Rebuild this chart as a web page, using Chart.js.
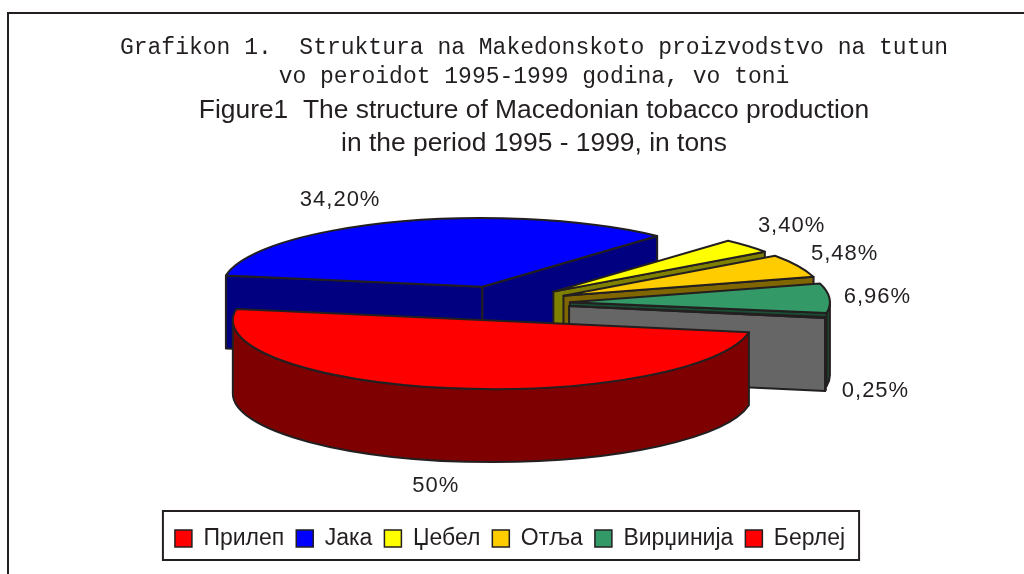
<!DOCTYPE html>
<html>
<head>
<meta charset="utf-8">
<script src="https://cdn.jsdelivr.net/npm/chart.js@4"></script>
<style>
  html, body { margin: 0; padding: 0; background: #fff; }
  canvas { display: block; }
</style>
</head>
<body>
<canvas id="tobaccoChart" width="1024" height="574"></canvas>
<script>
const regions = ['Прилеп', 'Јака', 'Џебел', 'Отља', 'Вирџинија', 'Берлеј'];
const shares = [50, 34.2, 3.4, 5.48, 6.96, 0.25];
const shareLabels = ['50%', '34,20%', '3,40%', '5,48%', '6,96%', '0,25%'];
const topColors = ['#FF0000', '#0000FF', '#FFFF00', '#FFCC00', '#339966', '#FF0000'];
const wallColors = ['#7F0000', '#000080', '#808000', '#806600', '#1A4D33', '#666666'];
const rimColors = ['#7F0000', '#000080', '#808000', '#806600', '#1A4D33', '#231F20'];

const titleLines = ['Grafikon 1.  Struktura na Makedonskoto proizvodstvo na tutun', 'vo peroidot 1995-1999 godina, vo toni'];
const subtitleLines = ['Figure1  The structure of Macedonian tobacco production', 'in the period 1995 - 1999, in tons'];

const outline = '#231F20';
const tilt = 0.264;     // vertical squash of the pie
const depth = 73;       // height of the pie wall
const explode = 66;     // how far the slices are pulled out
const paintOrder = [1, 2, 3, 4, 5, 0];
const pieShift = { x: 0, y: -49 };
const labelShift = [[-13, 98], [-57, -22], [44, -20], [47, -12], [48, -1], [50, 73]];

// pie drawn as a flat ellipse with walls, geometry comes from the arc elements
function slicePoint(c, r, a) {
  return { x: c.x + Math.cos(a) * r, y: c.y + Math.sin(a) * r * tilt };
}

function sliceCenter(arc) {
  const mid = (arc.startAngle + arc.endAngle) / 2;
  return {
    x: arc.x + pieShift.x + Math.cos(mid) * explode,
    y: arc.y + pieShift.y + Math.sin(mid) * explode * tilt
  };
}

function paint(ctx, fill) {
  ctx.fillStyle = fill;
  ctx.fill();
  ctx.stroke();
}

function radialWall(ctx, c, r, a, fill) {
  const p = slicePoint(c, r, a);
  ctx.beginPath();
  ctx.moveTo(c.x, c.y);
  ctx.lineTo(p.x, p.y);
  ctx.lineTo(p.x, p.y + depth);
  ctx.lineTo(c.x, c.y + depth);
  ctx.closePath();
  paint(ctx, fill);
}

function curvedWall(ctx, c, r, from, to, fill) {
  const ry = r * tilt;
  ctx.beginPath();
  ctx.ellipse(c.x, c.y, r, ry, 0, from, to);
  ctx.ellipse(c.x, c.y + depth, r, ry, 0, to, from, true);
  ctx.closePath();
  paint(ctx, fill);
}

function drawSlice(ctx, arc, i) {
  const c = sliceCenter(arc);
  const r = arc.outerRadius;
  const s = arc.startAngle;
  const e = arc.endAngle;
  if (Math.cos(s) < 0) radialWall(ctx, c, r, s, wallColors[i]);
  if (Math.cos(e) > 0) radialWall(ctx, c, r, e, wallColors[i]);
  // front part of the rim only, where sin(angle) > 0
  for (let k = -1; k <= 2; k++) {
    const from = Math.max(s, k * 2 * Math.PI);
    const to = Math.min(e, k * 2 * Math.PI + Math.PI);
    if (to > from) curvedWall(ctx, c, r, from, to, rimColors[i]);
  }
  ctx.beginPath();
  ctx.moveTo(c.x, c.y);
  ctx.ellipse(c.x, c.y, r, r * tilt, 0, s, e);
  ctx.closePath();
  paint(ctx, topColors[i]);
}

const piePlugin = {
  id: 'pie3d',
  beforeDraw(chart) {
    const ctx = chart.ctx;
    ctx.save();
    ctx.strokeStyle = outline;
    ctx.lineWidth = 2;
    ctx.beginPath();
    ctx.moveTo(8, 574);
    ctx.lineTo(8, 13);
    ctx.lineTo(1024, 13);
    ctx.stroke();
    ctx.restore();
  },
  afterLayout(chart) {
    chart.boxes.forEach(b => {
      if (b.options && b.options.text) { b.left += 30; b.right += 30; }
    });
    chart.legend.left += 6;
    chart.legend.right += 6;
  },
  beforeDatasetsDraw(chart) {
    const ctx = chart.ctx;
    const arcs = chart.getDatasetMeta(0).data;
    ctx.save();
    ctx.strokeStyle = outline;
    ctx.lineWidth = 2;
    ctx.lineJoin = 'round';
    paintOrder.forEach(i => drawSlice(ctx, arcs[i], i));

    ctx.fillStyle = outline;
    ctx.font = '22px "Liberation Sans"';
    ctx.letterSpacing = '1px';
    ctx.textAlign = 'center';
    ctx.textBaseline = 'middle';
    arcs.forEach((arc, i) => {
      const mid = (arc.startAngle + arc.endAngle) / 2;
      const p = slicePoint(sliceCenter(arc), arc.outerRadius, mid);
      ctx.fillText(shareLabels[i], p.x + labelShift[i][0], p.y + labelShift[i][1]);
    });
    ctx.restore();
    return false;
  },
  afterDraw(chart) {
    // frame around the legend
    const legend = chart.legend;
    const ctx = chart.ctx;
    const mid = (legend.left + legend.right) / 2 + 1;
    const half = legend.lineWidths[0] / 2 + 7;
    ctx.save();
    ctx.strokeStyle = outline;
    ctx.lineWidth = 2;
    ctx.strokeRect(mid - half, legend.top - 4, half * 2, 49);
    ctx.restore();
  }
};

new Chart(document.getElementById('tobaccoChart').getContext('2d'), {
  type: 'pie',
  data: {
    labels: regions,
    datasets: [{
      data: shares,
      backgroundColor: topColors,
      borderColor: outline,
      borderWidth: 1.5
    }]
  },
  options: {
    responsive: false,
    animation: false,
    rotation: 100,
    radius: 260,
    layout: { padding: { left: 0, right: 16, top: 33, bottom: 14 } },
    plugins: {
      tooltip: { enabled: false },
      title: {
        display: true,
        text: titleLines,
        color: outline,
        font: { family: '"Liberation Mono"', size: 23, weight: 'normal', lineHeight: 1.27 },
        padding: { top: 0, bottom: 2 }
      },
      subtitle: {
        display: true,
        text: subtitleLines,
        color: outline,
        font: { family: '"Liberation Sans"', size: 26.4, weight: 'normal', lineHeight: 1.25 },
        padding: { top: 1, bottom: 29 }
      },
      legend: {
        position: 'bottom',
        labels: {
          color: outline,
          boxWidth: 17,
          boxHeight: 17,
          padding: 12,
          font: { family: '"Liberation Sans"', size: 23 }
        }
      }
    }
  },
  plugins: [piePlugin]
});
</script>
</body>
</html>
